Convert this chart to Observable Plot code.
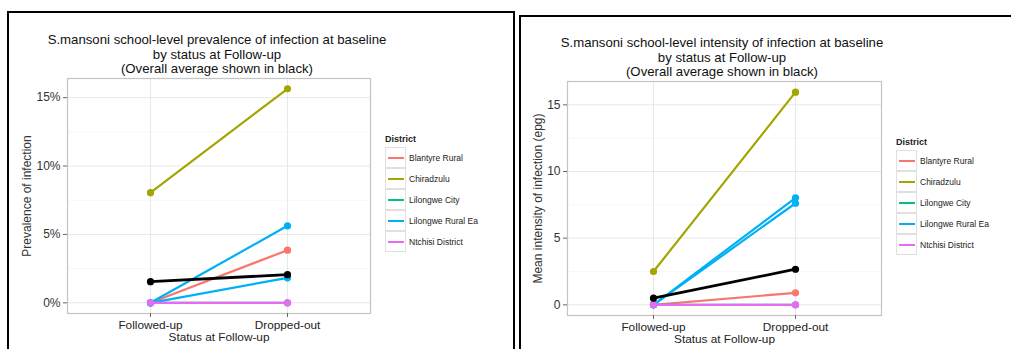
<!DOCTYPE html>
<html>
<head>
<meta charset="utf-8">
<script src="https://cdn.jsdelivr.net/npm/d3@7"></script>
<script src="https://cdn.jsdelivr.net/npm/@observablehq/plot@0.6"></script>
<style>
  html, body { margin: 0; padding: 0; background: #fff; }
  #page { position: relative; width: 1011px; height: 349px; overflow: hidden; font-family: "Liberation Sans", Arial, sans-serif; }
  .panel { position: absolute; border: 2px solid #000; box-sizing: border-box; }
  .title { position: absolute; text-align: center; font-size: 13.2px; line-height: 14.5px; color: #111; white-space: nowrap; transform: translateX(-50%); }
  .legend { position: absolute; font-size: 8.5px; color: #222; }
  .legend .lt { font-weight: bold; font-size: 9px; margin-bottom: 3px; }
  .legend .row { display: flex; align-items: center; height: 21px; }
  .legend .key { width: 21px; height: 21px; border: 1px solid #e0e0e0; box-sizing: border-box; display: flex; align-items: center; justify-content: center; margin-right: 3px; }
  .legend .key span { display: block; width: 16px; height: 2px; }
  .plotwrap { position: absolute; top: 0; }
</style>
</head>
<body>
<div id="page">
  <div class="panel" style="left:7px; top:11px; width:508px; height:360px;"></div>
  <div class="panel" style="left:519px; top:15px; width:520px; height:360px;"></div>
  <div class="title" style="left:217px; top:33px;">S.mansoni school-level prevalence of infection at baseline<br>by status at Follow-up<br>(Overall average shown in black)</div>
  <div class="title" style="left:722px; top:36px;">S.mansoni school-level intensity of infection at baseline<br>by status at Follow-up<br>(Overall average shown in black)</div>
  <div id="leg1" class="legend" style="left:385px; top:134px;"></div>
  <div id="leg2" class="legend" style="left:896px; top:137px;"></div>
  <div id="p1" class="plotwrap" style="left:0px;"></div>
  <div id="p2" class="plotwrap" style="left:505px;"></div>
</div>
<script>
const statuses = ["Followed-up", "Dropped-out"];
const districts = ["Blantyre Rural", "Chiradzulu", "Lilongwe City", "Lilongwe Rural Ea", "Ntchisi District"];
const districtColors = ["#F8766D", "#A3A500", "#00BF7D", "#00B0F6", "#E76BF3"];

// Prevalence (%) per school group line
const prevDistrict = ["Blantyre Rural", "Chiradzulu", "Lilongwe City", "Lilongwe Rural Ea", "Lilongwe Rural Ea", "Ntchisi District"];
const prevFollowed = [0, 8.05, 0, 0, 0, 0];
const prevDropped = [3.85, 15.65, 0, 5.63, 1.83, 0];
const prevOverall = [1.55, 2.06];
const prevTicks = [0, 5, 10, 15];

// Mean intensity (epg) per school group line
const intDistrict = ["Blantyre Rural", "Chiradzulu", "Lilongwe City", "Lilongwe Rural Ea", "Lilongwe Rural Ea", "Ntchisi District"];
const intFollowed = [0, 2.5, 0, 0, 0, 0];
const intDropped = [0.9, 15.95, 0, 8.03, 7.62, 0];
const intOverall = [0.5, 2.67];
const intTicks = [0, 5, 10, 15];

function longData(dist, fol, drop) {
  const out = [];
  dist.forEach((d, i) => {
    out.push({id: i, district: d, status: statuses[0], value: fol[i]});
    out.push({id: i, district: d, status: statuses[1], value: drop[i]});
  });
  return out;
}
function overallData(vals) {
  return statuses.map((s, i) => ({status: s, value: vals[i]}));
}

function makePlot(cfg) {
  const data = longData(cfg.dist, cfg.fol, cfg.drop);
  const overall = overallData(cfg.overall);
  const minor = cfg.ticks.slice(0, -1).map((t, i) => (t + cfg.ticks[i + 1]) / 2).concat([cfg.ticks[cfg.ticks.length - 1] + 2.5]);
  return Plot.plot({
    width: cfg.width,
    height: 349,
    marginLeft: cfg.ml,
    marginRight: cfg.mr,
    marginTop: cfg.mt,
    marginBottom: 349 - cfg.mb,
    style: {background: "transparent", fontFamily: "Liberation Sans, Arial, sans-serif", fontSize: "11.5px", overflow: "visible"},
    x: {type: "point", domain: statuses, padding: cfg.pad, align: 0.5},
    y: {domain: cfg.ydomain},
    color: {domain: districts, range: districtColors},
    marks: [
      Plot.ruleY(minor.filter(v => v < cfg.ydomain[1]), {stroke: "#f7f7f7", strokeWidth: 1}),
      Plot.gridY(cfg.ticks, {stroke: "#e8e8e8", strokeOpacity: 1, strokeWidth: 1}),
      Plot.gridX(statuses, {stroke: "#e8e8e8", strokeOpacity: 1, strokeWidth: 1}),
      Plot.frame({stroke: "#c4c4c4", strokeWidth: 1.2}),
      Plot.axisY(cfg.ticks, {tickFormat: cfg.fmt, tickSize: 4, tickPadding: 3, stroke: "#666", fill: "#333", fontSize: 12,
        label: cfg.ylabel, labelAnchor: "center", labelArrow: "none", labelOffset: cfg.lo}),
      Plot.axisX({tickSize: 4, tickPadding: 3, stroke: "#666", fill: "#222", fontSize: 11.8,
        label: "Status at Follow-up", labelAnchor: "center", labelArrow: "none", labelOffset: 27}),
      Plot.line(data, {x: "status", y: "value", z: "id", stroke: "district", strokeWidth: 2.2}),
      Plot.dot(data, {x: "status", y: "value", fill: "district", r: 3.6}),
      Plot.line(overall, {x: "status", y: "value", stroke: "#000", strokeWidth: 2.8}),
      Plot.dot(overall, {x: "status", y: "value", fill: "#000", r: 3.6})
    ]
  });
}

document.getElementById("p1").append(makePlot({
  dist: prevDistrict, fol: prevFollowed, drop: prevDropped, overall: prevOverall, ticks: prevTicks,
  fmt: d => d + "%", ylabel: "Prevalence of infection", lo: 45,
  width: 380, ml: 67, mr: 10, mt: 78, mb: 313, pad: 0.598, ydomain: [-0.78, 16.4]
}));
document.getElementById("p2").append(makePlot({
  dist: intDistrict, fol: intFollowed, drop: intDropped, overall: intOverall, ticks: intTicks,
  fmt: d => String(d), ylabel: "Mean intensity of infection (epg)", lo: 34,
  width: 390, ml: 62, mr: 14, mt: 81, mb: 315, pad: 0.605, ydomain: [-0.8, 16.75]
}));

function legend(el) {
  const t = document.createElement("div");
  t.className = "lt"; t.textContent = "District";
  el.append(t);
  districts.forEach((d, i) => {
    const r = document.createElement("div"); r.className = "row";
    const k = document.createElement("div"); k.className = "key";
    const s = document.createElement("span"); s.style.background = districtColors[i];
    k.append(s); r.append(k);
    const l = document.createElement("div"); l.textContent = d; r.append(l);
    el.append(r);
  });
}
legend(document.getElementById("leg1"));
legend(document.getElementById("leg2"));
</script>
</body>
</html>
